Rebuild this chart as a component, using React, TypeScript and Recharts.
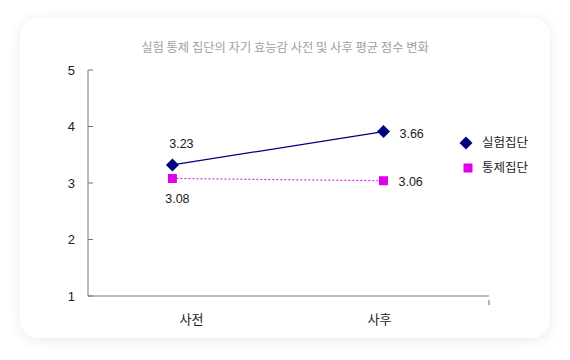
import React from "react";
import { LineChart, Line, XAxis, YAxis } from "recharts";

const categories = ["사전", "사후"];
const seriesNames = ["실험집단", "통제집단"];
const experimentalValues = [3.32, 3.91];
const controlValues = [3.08, 3.04];
const experimentalLabels = ["3.23", "3.66"];
const controlLabels = ["3.08", "3.06"];
const yTicks = [1, 2, 3, 4, 5];
const title = "실험 통제 집단의 자기 효능감 사전 및 사후 평균 점수 변화";

const NAVY = "#00007f";
const MAGENTA = "#e000e8";
const FONT = "'Liberation Sans', 'Noto Sans CJK KR', sans-serif";

const data = categories.map((c, i) => ({
  x: i,
  name: c,
  exp: experimentalValues[i],
  ctrl: controlValues[i],
}));

const Diamond = (props: any) => {
  const { cx, cy } = props;
  if (cx == null || cy == null) return null;
  const r = 6.5;
  return (
    <path
      d={`M${cx},${cy - r}L${cx + r},${cy}L${cx},${cy + r}L${cx - r},${cy}Z`}
      fill={NAVY}
    />
  );
};

const Square = (props: any) => {
  const { cx, cy } = props;
  if (cx == null || cy == null) return null;
  const s = 9;
  return <rect x={cx - s / 2} y={cy - s / 2} width={s} height={s} fill={MAGENTA} />;
};

const ExpLabel = (props: any) => {
  const { x, y, index } = props;
  const text = experimentalLabels[index];
  if (index === 0) {
    return (
      <text x={x + 9} y={y - 21} textAnchor="middle" dominantBaseline="central" fontSize={12.5} fill="#222" fontFamily={FONT}>
        {text}
      </text>
    );
  }
  return (
    <text x={x + 16} y={y + 2} textAnchor="start" dominantBaseline="central" fontSize={12.5} fill="#222" fontFamily={FONT}>
      {text}
    </text>
  );
};

const CtrlLabel = (props: any) => {
  const { x, y, index } = props;
  const text = controlLabels[index];
  if (index === 0) {
    return (
      <text x={x + 5} y={y + 21} textAnchor="middle" dominantBaseline="central" fontSize={12.5} fill="#222" fontFamily={FONT}>
        {text}
      </text>
    );
  }
  return (
    <text x={x + 15} y={y + 1} textAnchor="start" dominantBaseline="central" fontSize={12.5} fill="#222" fontFamily={FONT}>
      {text}
    </text>
  );
};

const XTick = (props: any) => {
  const { x, y, payload } = props;
  const v = payload.value;
  if (v === 0 || v === 1) {
    const dx = v === 0 ? 19 : -4;
    return (
      <text x={x + dx} y={y + 15} textAnchor="middle" dominantBaseline="central" fontSize={13} fill="#222" fontFamily={FONT}>
        {categories[v]}
      </text>
    );
  }
  return <line x1={x} x2={x} y1={y - 4} y2={y + 1} stroke="#666" strokeWidth={1} />;
};

export default function App() {
  return (
    <div style={{ position: "absolute", left: 0, top: 0, width: 570, height: 360, background: "#fff", overflow: "hidden" }}>
      <div
        style={{
          position: "absolute",
          left: 20,
          top: 18,
          width: 530,
          height: 320,
          borderRadius: 18,
          background: "#fff",
          boxShadow: "0 2px 14px rgba(0,0,0,0.09)",
        }}
      />
      <div
        style={{
          position: "absolute",
          left: 0,
          top: 38,
          width: 570,
          textAlign: "center",
          fontSize: 12.3,
          color: "#a0a0a0",
          fontFamily: "'Noto Sans CJK KR', sans-serif",
          lineHeight: "18px",
        }}
      >
        {title}
      </div>
      <div style={{ position: "absolute", left: 0, top: 0 }}>
        <LineChart width={570} height={360} data={data} margin={{ top: 70, right: 81, bottom: 0, left: 0 }}>
          <XAxis
            dataKey="x"
            type="number"
            domain={[-0.4, 1.5]}
            ticks={[0, 1, 1.5]}
            height={64}
            stroke="#777"
            tickLine={false}
            tick={<XTick />}
            interval={0}
          />
          <YAxis
            type="number"
            domain={[1, 5]}
            ticks={yTicks}
            width={88}
            stroke="#777"
            tickSize={-5}
            tickMargin={18}
            tick={{ fontSize: 13, fill: "#222", fontFamily: FONT }}
            interval={0}
          />
          <Line
            dataKey="exp"
            name={seriesNames[0]}
            stroke={NAVY}
            strokeWidth={1.2}
            dot={<Diamond />}
            activeDot={false}
            label={<ExpLabel />}
            isAnimationActive={false}
          />
          <Line
            dataKey="ctrl"
            name={seriesNames[1]}
            stroke={MAGENTA}
            strokeWidth={1}
            strokeDasharray="2 2"
            dot={<Square />}
            activeDot={false}
            label={<CtrlLabel />}
            isAnimationActive={false}
          />
        </LineChart>
      </div>
      <svg style={{ position: "absolute", left: 455, top: 130 }} width={90} height={50}>
        <path d="M11,6.5L17.5,13L11,19.5L4.5,13Z" fill={NAVY} />
        <text x={27} y={13} dominantBaseline="central" fontSize={12.5} fill="#222" fontFamily={FONT}>
          {seriesNames[0]}
        </text>
        <rect x={8.5} y={33.5} width={9} height={9} fill={MAGENTA} />
        <text x={27} y={38} dominantBaseline="central" fontSize={12.5} fill="#222" fontFamily={FONT}>
          {seriesNames[1]}
        </text>
      </svg>
    </div>
  );
}
